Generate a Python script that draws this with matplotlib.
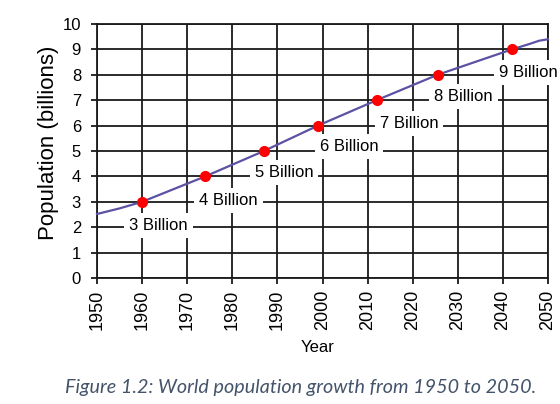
import matplotlib
matplotlib.use("Agg")
import matplotlib.pyplot as plt

# curve
curve_years = [1950, 1955, 1960, 1974, 1987, 1999, 2012, 2025.5, 2042, 2046, 2048, 2050]
curve_pop = [2.52, 2.74, 3.0, 4.0, 5.0, 6.0, 7.0, 8.0, 9.0, 9.22, 9.34, 9.4]

# billion milestones (dots) and their label positions
mark_years = [1960, 1974, 1987, 1999, 2012, 2025.5, 2042]
mark_pop = [3, 4, 5, 6, 7, 8, 9]
label_texts = ["3 Billion", "4 Billion", "5 Billion", "6 Billion",
               "7 Billion", "8 Billion", "9 Billion"]
label_x = [1957.1, 1972.6, 1985.0, 1999.4, 2012.7, 2024.7, 2039.2]
label_y = [2.08, 3.07, 4.17, 5.17, 6.1, 7.14, 8.08]

xticks = list(range(1950, 2051, 10))
yticks = list(range(0, 11))

plt.rcParams['font.family'] = ['Liberation Sans', 'DejaVu Sans']

fig = plt.figure(figsize=(5.6, 4.04), dpi=100)
ax = fig.add_axes([97 / 560, 126 / 404, 451 / 560, 254 / 404])

grid_col = '#1a1a1a'
ax.set_xlim(1950, 2050)
ax.set_ylim(0, 10)
ax.set_xticks(xticks)
ax.set_yticks(yticks)
ax.grid(True, color=grid_col, linewidth=1.3)
ax.set_axisbelow(True)
for s in ax.spines.values():
    s.set_color(grid_col)
    s.set_linewidth(1.3)

ax.tick_params(axis='x', labelsize=13, length=4.5, width=1.3, color=grid_col,
               pad=4, labelrotation=90)
ax.tick_params(axis='y', labelsize=12, length=4.5, width=1.3, color=grid_col,
               pad=7)

ax.plot(curve_years, curve_pop, color='#5b52a3', linewidth=1.6, zorder=3,
        clip_on=False)
ax.plot(mark_years, mark_pop, 'o', color='#ff0000', markersize=7, zorder=4)

for t, x, y in zip(label_texts, label_x, label_y):
    ax.text(x, y, t, fontsize=12, ha='left', va='center', zorder=5,
            bbox=dict(boxstyle='square,pad=0.3', facecolor='white',
                      edgecolor='none'))

fig.text(49 / 560, 1 - 142.5 / 404, 'Population (billions)', rotation=90,
         fontsize=16, ha='center', va='center')
fig.text(318 / 560, 1 - 348 / 404, 'Year', fontsize=12, ha='center', va='center')
fig.text(301 / 560, 1 - 388 / 404,
         'Figure 1.2: World population growth from 1950 to 2050.',
         fontsize=14.2, style='italic', family=['Lato', 'DejaVu Sans'],
         color='#44546a', ha='center', va='center')

fig.savefig('out.png', dpi=100)
